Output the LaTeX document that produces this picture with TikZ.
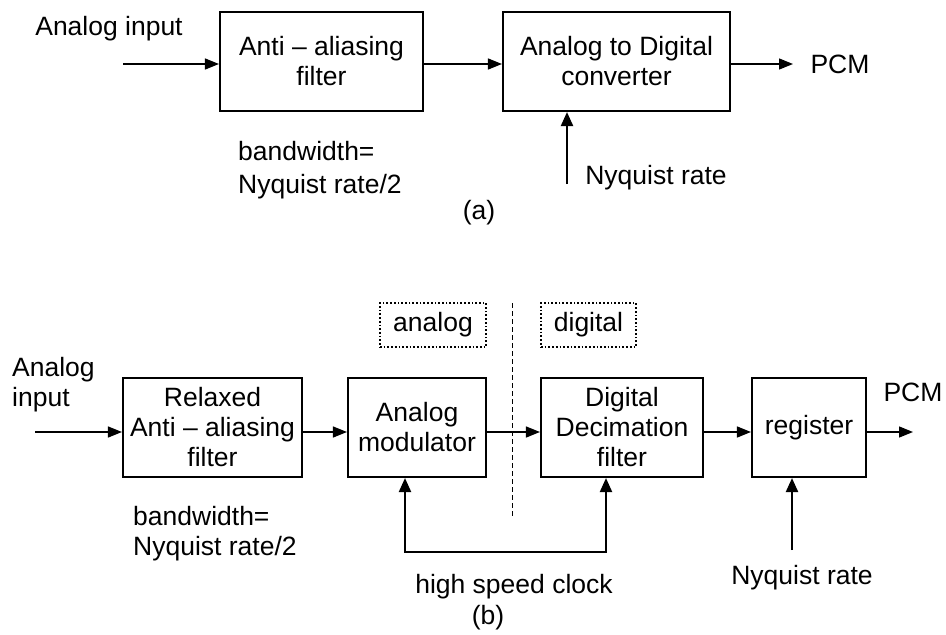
\documentclass[tikz,border=0pt]{standalone}
\usepackage{fontspec}
\setmainfont{Liberation Sans}
\usetikzlibrary{arrows.meta}
\begin{document}
\begin{tikzpicture}[x=1pt,y=-1pt,
  every node/.style={font=\fontsize{26.5}{30}\selectfont, inner sep=0pt},
  blockbox/.style={draw, line width=2.1pt, align=center, minimum height=99pt},
  sig/.style={line width=1.4pt, -{Triangle[length=14pt,width=11pt]}},
  ctl/.style={line width=2.2pt, -{Triangle[length=14pt,width=12pt]}},
  tagbox/.style={draw, dotted, line width=1.7pt, minimum height=44pt},
  lbl/.style={align=left}
]
\fill[white] (0,0) rectangle (946,635);
\path[use as bounding box] (0,0) rectangle (946,635);

% ---- (a) conventional PCM chain ----
\node[lbl] (ainA) at (109,29) {Analog input};
\node[blockbox, minimum width=203pt] (aaf) at (321.5,61.5) {Anti – aliasing\\filter};
\node[blockbox, minimum width=227pt] (adc) at (616.5,61.5) {Analog to Digital\\converter};
\node (pcmA) at (840,64) {PCM};
\node (nyqA) at (656,178) {Nyquist rate};
\node[lbl, anchor=west] (bwA) at (238,170) {bandwidth=\\[3pt]Nyquist rate/2};
\node (capA) at (479,213) {(a)};
\coordinate (srcA) at (123,64);
\coordinate (outA) at (793,64);
\coordinate (clkA) at (567,184);
\draw[sig] (srcA) -- (aaf.west |- srcA);
\draw[sig] (aaf.east |- srcA) -- (adc.west |- srcA);
\draw[sig] (adc.east |- srcA) -- (outA);
\draw[ctl] (clkA) -- (clkA |- adc.south);

% ---- (b) oversampling chain ----
\node[tagbox, minimum width=106pt] (tagAn) at (433,325) {analog};
\node[tagbox, minimum width=95pt] (tagDi) at (588.5,325) {digital};
\coordinate (divTop) at (512,303);
\coordinate (divBot) at (512,518);
\draw[line width=1pt, dash pattern=on 5pt off 3pt] (divTop) -- (divBot);

\node[lbl, anchor=west] (ainB) at (12,385) {Analog\\input};
\node[blockbox, minimum width=179pt] (relax) at (212.5,427.5) {Relaxed\\Anti – aliasing\\filter};
\node[blockbox, minimum width=138pt] (mod) at (417,427.5) {Analog\\modulator};
\node[blockbox, minimum width=162pt] (ddf) at (622,427.5) {Digital\\Decimation\\filter};
\node[blockbox, minimum width=114pt] (reg) at (809,427.5) {register};
\node (pcmB) at (913,392) {PCM};
\node[lbl, anchor=west] (bwB) at (133,534) {bandwidth=\\Nyquist rate/2};
\node (clkTxt) at (514,587) {high speed clock};
\node (capB) at (488,618) {(b)};
\node (nyqB) at (802,578) {Nyquist rate};

\coordinate (srcB) at (35,432);
\coordinate (outB) at (913,432);
\coordinate (clkL) at (405,552);
\coordinate (clkR) at (606,552);
\coordinate (nyqSrc) at (792,550);
\draw[sig] (srcB) -- (relax.west |- srcB);
\draw[sig] (relax.east |- srcB) -- (mod.west |- srcB);
\draw[sig] (mod.east |- srcB) -- (ddf.west |- srcB);
\draw[sig] (ddf.east |- srcB) -- (reg.west |- srcB);
\draw[sig] (reg.east |- srcB) -- (outB);
\draw[line width=2.2pt, {Triangle[length=14pt,width=12pt]}-{Triangle[length=14pt,width=12pt]}]
  (clkL |- mod.south) -- (clkL) -- (clkR) -- (clkR |- ddf.south);
\draw[ctl] (nyqSrc) -- (nyqSrc |- reg.south);
\end{tikzpicture}
\end{document}
